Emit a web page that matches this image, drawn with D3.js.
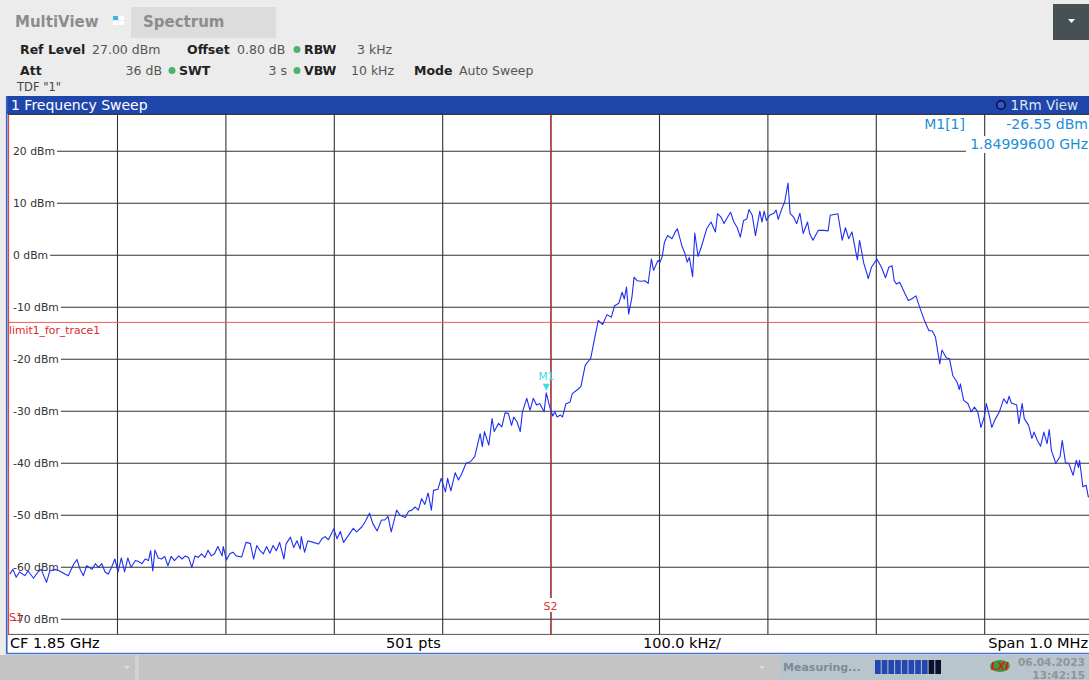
<!DOCTYPE html>
<html><head><meta charset="utf-8">
<script src="https://cdn.jsdelivr.net/npm/d3@7"></script>
<style>
body{margin:0;background:#ececec;overflow:hidden}
svg{display:block;font-family:"DejaVu Sans",sans-serif}
</style>
</head><body>
<svg id="c" width="1089" height="680"></svg>
<script>
// ---- data (frequency offset from CF 1.85 GHz in kHz, level in dBm) ----
const freqKHz = [
-499,-496,-493,-490,-485,-482,-477,-473,-470,-465,-462,-457,-453,-448,-445,-440,-437,-434,-431,-428,
-423,-420,-417,-414,-411,-408,-405,-402,-399,-396,-393,-390,-387,-383,-380,-377,-374,-371,-369,-367,
-365,-362,-359,-356,-353,-350,-347,-343,-340,-337,-334,-331,-328,-325,-322,-319,-316,-313,-310,-307,
-303,-302,-299,-296,-293,-290,-285,-281,-277,-274,-271,-268,-265,-262,-259,-256,-253,-250,-246,-244,
-240,-237,-234,-231,-230,-227,-224,-219,-214,-211,-208,-205,-200,-197,-194,-191,
-182,-179,-174,-171,-167,-164,-160,-156,-153,-150,-147,-142,-139,-134,-131,-128,-125,-122,-119,-116,
-113,-110,-108,-104,-101,-97,-95,-92,-88,-85,-82,-78,-74,-70,-65,-63,-61,-57,-54,-52,
-48,-45,-42,-39,-36,-34,-31,-28,-26,-22,-19,-16,-13,-10,-6,-4,-1,2,4,6,
9,11,14,18,20,25,28,32,37,40,44,
48,52,56,59,63,66,68,70,72,75,77,80,84,87,90,93,95,99,101,103,
105,108,112,115,117,121,124,126,128,131,133,136,139,144,148,152,154,157,160,162,
166,169,172,175,178,181,183,186,189,193,195,197,199,202,206,208,210,213,216,219,
221,224,227,230,233,237,239,242,247,252,256,258,265,269,272,275,278,281,283,285,
289,292,293,296,301,305,309,312,315,317,319,322,
327,330,333,337,341,345,349,352,355,357,359,361,365,368,371,375,377,378,381,385,
388,391,394,397,400,402,405,407,410,414,418,421,423,425,430,432,435,437,441,444,
446,449,452,455,458,460,462,466,470,472,475,478,482,485,487,488,491,494,496,500
];
const levelDbm = [
-61.4,-60.5,-62,-61,-61.7,-60.8,-62.2,-61,-60.5,-63,-60.8,-60.5,-60.8,-61.4,-61.7,-59.5,-58.6,-60.5,-61.7,-59.8,
-60.5,-59.4,-60.1,-59.4,-61,-61.4,-60.1,-58.5,-61,-58.3,-61,-58.3,-60.1,-58.8,-59,-59.4,-58.5,-58.8,-56.9,-60.8,
-56.8,-58.3,-58.5,-58,-59.8,-58,-58.8,-57.9,-58.5,-57.9,-58.2,-60.1,-57.9,-58.2,-57.5,-58.2,-56.8,-57.9,-57.5,-56.1,
-57.9,-56.1,-58.7,-57.5,-57.2,-57.9,-58.1,-55.3,-55.5,-58.5,-55.9,-56.9,-57.5,-56.1,-57.4,-55.9,-56.9,-55.3,-58.5,-55.6,
-54.3,-56.3,-55,-56.6,-54.2,-57.2,-55,-55.3,-55.6,-54.6,-54.2,-54.8,-52.7,-54.6,-53.2,-55.3,
-52.6,-53.3,-52.3,-51.3,-49.7,-51.7,-53.1,-51,-51,-50.3,-53.3,-49.1,-50.1,-50.5,-49.3,-49.1,-48.5,-49.1,-46.9,-48,
-45.8,-49.1,-45.3,-45.1,-43,-45.6,-43,-45.4,-41.9,-43.3,-42.1,-40.1,-39.8,-38.8,-34.4,-36.9,-34,-36.6,-31.5,-34,
-32.4,-33.1,-30.4,-30.5,-32.8,-31.2,-32.1,-34,-30.2,-27.6,-29.9,-27.6,-28.9,-28.6,-30.2,-26.55,-29.1,-31,-30.2,-31.2,
-30.8,-31.2,-28.7,-28.3,-26.7,-25.9,-25.3,-21.2,-19.9,-16.7,-12.6,
-13.4,-11.5,-12,-9.8,-9.3,-7.2,-8.5,-6.2,-11.4,-8.2,-4.3,-5,-5.1,-5,-5.5,-0.8,-3,-1.1,-1.4,-0.3,
2.4,3.7,3.1,4.4,5,1.8,0.2,-1.4,-0.5,-4.2,4.2,-0.3,1.5,5,6.3,4.4,7.9,7.3,6,6.8,
8.2,6.3,5.3,3.4,6.6,6.9,8.7,7.6,3.7,8.4,6.3,8.4,6.6,7.6,8,8.6,6.8,8.7,10.2,13.8,
7.9,7.3,6,8,4.1,6.3,4.1,2.8,4.7,4.7,4.6,7.6,7.9,2.8,5.2,3.1,4.4,1.2,-1,2.8,
-1.7,-3.7,-4.6,-2.4,-0.8,-2.3,-4.4,-2.4,-2.1,-5,-5.6,-5.3,
-7.5,-8.8,-8.5,-7.9,-10.4,-12.7,-14.6,-14.6,-15.8,-18.4,-21,-18.3,-19.8,-20,-23.2,-24.5,-25.9,-24.8,-28,-28.6,
-30.2,-29.3,-30.2,-33.2,-31.2,-28.6,-31.2,-33.2,-31.7,-30.2,-27.7,-28.6,-27.2,-28.5,-28.9,-32.5,-28.6,-31.5,-32.8,-35.3,
-34.1,-35.7,-36.8,-34.1,-36.3,-33.6,-37.6,-40.1,-38.8,-35.7,-40,-40.1,-42.4,-39.5,-40.9,-39.5,-44.6,-44.3,-46.5,-47
];
const yTicks = [20,10,0,-10,-20,-30,-40,-50,-60,-70];
const xTicks = [-400,-300,-200,-100,0,100,200,300,400];
const spanKHz = [-500,500];
const levelRange = [-73,27];
const limitDbm = -13;
const markerFreqKHz = -4, markerDbm = -26.55;
const headerLine1 = [
  {t:"Ref Level",b:true,x:20,a:"start"},{t:"27.00 dBm",x:92,a:"start"},
  {t:"Offset",b:true,x:187,a:"start"},{t:"0.80 dB",x:237,a:"start"},
  {t:"RBW",b:true,x:304,a:"start"},{t:"3 kHz",x:357,a:"start"}];
const headerLine2 = [
  {t:"Att",b:true,x:20,a:"start"},{t:"36 dB",x:162,a:"end"},
  {t:"SWT",b:true,x:179,a:"start"},{t:"3 s",x:287,a:"end"},
  {t:"VBW",b:true,x:304,a:"start"},{t:"10 kHz",x:351,a:"start"},
  {t:"Mode",b:true,x:414,a:"start"},{t:"Auto Sweep",x:459,a:"start"}];

const svg = d3.select("#c");
const W = 1089, H = 680;

// header background
svg.append("rect").attr("width",W).attr("height",H).attr("fill","#ececec");
svg.append("text").attr("x",15).attr("y",27).attr("font-size",15).attr("font-weight","bold")
  .attr("fill","#8c8c8c").text("MultiView");
[[0,0,"#3fb3ea"],[6,0,"#ffffff"],[0,5,"#ffffff"],[6,5,"#ffffff"]].forEach(d=>{
  svg.append("rect").attr("x",113+d[0]).attr("y",16+d[1]).attr("width",5).attr("height",4).attr("fill",d[2]);
});
svg.append("rect").attr("x",131).attr("y",7).attr("width",145).attr("height",31).attr("fill","#dcdcdc");
svg.append("text").attr("x",143).attr("y",27).attr("font-size",15).attr("font-weight","bold")
  .attr("fill","#8c8c8c").text("Spectrum");
svg.append("rect").attr("x",1053).attr("y",4).attr("width",36).attr("height",36).attr("fill","#475053");
svg.append("path").attr("d","M1068,19 L1075,19 L1071.5,23 Z").attr("fill","#ffffff");

function hdr(items, yy){
  items.forEach(d=>{
    svg.append("text").attr("x",d.x).attr("y",yy).attr("font-size",12.5)
      .attr("font-weight",d.b?"bold":"normal").attr("fill",d.b?"#222":"#555")
      .attr("text-anchor",d.a).text(d.t);
  });
}
hdr(headerLine1,54);
hdr(headerLine2,75);
[[297,49.5],[172,70.5],[297,70.5]].forEach(p=>{
  svg.append("circle").attr("cx",p[0]).attr("cy",p[1]).attr("r",3.5).attr("fill","#4db36a");
});
svg.append("text").attr("x",17).attr("y",91).attr("font-size",11.5).attr("fill","#444").text('TDF "1"');

// title bar
svg.append("rect").attr("x",7).attr("y",96).attr("width",W-7).attr("height",18).attr("fill","#1f46ab");
svg.append("text").attr("x",11).attr("y",110).attr("font-size",14).attr("fill","#ffffff").text("1 Frequency Sweep");
svg.append("circle").attr("cx",1001).attr("cy",105).attr("r",4.3).attr("fill","#2f55e0").attr("stroke","#111").attr("stroke-width",1.5);
svg.append("text").attr("x",1078).attr("y",110).attr("font-size",13.5).attr("text-anchor","end").attr("fill","#dfe3ee").text("1Rm View");

// scales
const x = d3.scaleLinear().domain(spanKHz).range([8.6,1092.6]);
const y = d3.scaleLinear().domain(levelRange).range([634.4,114.4]);
const plotTop = y(levelRange[1]), plotBot = y(levelRange[0]);

// plot area
svg.append("rect").attr("x",8).attr("y",plotTop).attr("width",W-8).attr("height",plotBot-plotTop).attr("fill","#ffffff");
svg.append("defs").append("clipPath").attr("id","clip").append("rect")
  .attr("x",8).attr("y",plotTop).attr("width",W-8).attr("height",plotBot-plotTop);

// grid via axes
const gx = svg.append("g").attr("transform",`translate(0,${plotBot})`)
  .call(d3.axisBottom(x).tickValues(xTicks).tickSize(-(plotBot-plotTop)).tickFormat(""));
gx.select(".domain").remove();
gx.selectAll("line").attr("stroke","#333").attr("stroke-width",1.1);
const gy = svg.append("g").attr("transform",`translate(${x.range()[0]},0)`)
  .call(d3.axisLeft(y).tickValues(yTicks).tickSize(-(x.range()[1]-x.range()[0])).tickFormat(""));
gy.select(".domain").remove();
gy.selectAll("line").attr("stroke","#333").attr("stroke-width",1.1);

// y labels with white background
const labG = svg.append("g");
yTicks.forEach(v=>{
  const bg = labG.append("rect");
  const t = labG.append("text").attr("x",13).attr("y",y(v)).attr("dy","0.36em")
    .attr("font-size",10.8).attr("fill","#333").text(v+" dBm");
  const w = t.node().getComputedTextLength();
  bg.attr("x",9).attr("y",y(v)-3).attr("width",w+6).attr("height",6).attr("fill","#fff");
});

// plot borders
svg.append("line").attr("x1",8).attr("x2",W).attr("y1",plotTop).attr("y2",plotTop).attr("stroke","#222");
svg.append("line").attr("x1",8).attr("x2",W).attr("y1",plotBot).attr("y2",plotBot).attr("stroke","#555");

// limit line
svg.append("line").attr("x1",8).attr("x2",W).attr("y1",y(limitDbm)).attr("y2",y(limitDbm))
  .attr("stroke","#f05a5a").attr("stroke-width",1);
svg.append("text").attr("x",9).attr("y",y(limitDbm)+12).attr("font-size",10.8).attr("fill","#e02828").text("limit1_for_trace1");

// S1 / S2 lines
svg.append("line").attr("x1",x(-500)).attr("x2",x(-500)).attr("y1",plotTop).attr("y2",plotBot).attr("stroke","#e03030");
svg.append("line").attr("x1",x(0)).attr("x2",x(0)).attr("y1",plotTop).attr("y2",plotBot).attr("stroke","#e03030");
svg.append("rect").attr("x",x(0)-8).attr("y",598).attr("width",16).attr("height",14).attr("fill","#fff");
svg.append("text").attr("x",x(0)).attr("y",610).attr("text-anchor","middle").attr("font-size",11).attr("fill","#e03030").text("S2");
svg.append("text").attr("x",9).attr("y",621).attr("font-size",11).attr("fill","#e03030").text("S1");

// trace
const line = d3.line().x((d,i)=>x(freqKHz[i])).y(d=>y(d));
svg.append("path").attr("clip-path","url(#clip)").attr("d",line(levelDbm))
  .attr("fill","none").attr("stroke","#1f2ef2").attr("stroke-width",1.1).attr("stroke-linejoin","round");

// marker M1
const mx = x(markerFreqKHz), my = y(markerDbm);
svg.append("path").attr("d",`M${mx-3.5},${my-9} L${mx+3.5},${my-9} L${mx},${my-2} Z`).attr("fill","#3fdbe6");
svg.append("text").attr("x",mx).attr("y",my-13).attr("text-anchor","middle").attr("font-size",10.5).attr("fill","#3fdbe6").text("M1");

// marker readout
const mc = "#1b8fd6";
svg.append("text").attr("x",965).attr("y",129).attr("text-anchor","end").attr("font-size",14).attr("fill",mc).text("M1[1]");
svg.append("text").attr("x",1088).attr("y",129).attr("text-anchor","end").attr("font-size",14).attr("fill",mc).text(markerDbm.toFixed(2)+" dBm");
svg.append("rect").attr("x",966).attr("y",136).attr("width",W-966).attr("height",17).attr("fill","#fff");
svg.append("text").attr("x",1088).attr("y",149).attr("text-anchor","end").attr("font-size",14).attr("fill",mc)
  .text(((1850000+markerFreqKHz)/1e6).toFixed(8)+" GHz");

// bottom info bar
svg.append("rect").attr("x",8).attr("y",plotBot+0.6).attr("width",W-8).attr("height",653-plotBot-0.6).attr("fill","#fff");
const bb = 648;
svg.append("text").attr("x",10).attr("y",bb).attr("font-size",14.5).attr("fill","#000").text("CF 1.85 GHz");
svg.append("text").attr("x",386).attr("y",bb).attr("font-size",14.5).attr("fill","#000").text("501 pts");
svg.append("text").attr("x",643).attr("y",bb).attr("font-size",14.5).attr("fill","#000").text("100.0 kHz/");
svg.append("text").attr("x",1088).attr("y",bb).attr("text-anchor","end").attr("font-size",14.5).attr("fill","#000").text("Span 1.0 MHz");

// panel blue border
svg.append("line").attr("x1",6.7).attr("x2",6.7).attr("y1",96).attr("y2",654).attr("stroke","#3b5fc4").attr("stroke-width",1.6);
svg.append("line").attr("x1",6).attr("x2",W).attr("y1",653.5).attr("y2",653.5).attr("stroke","#4a70d2").attr("stroke-width",1.6);

// status bar
svg.append("rect").attr("x",0).attr("y",655).attr("width",W).attr("height",25).attr("fill","#c4c4c4");
svg.append("rect").attr("x",135).attr("y",655).attr("width",4).attr("height",25).attr("fill","#d2d2d2");
svg.append("path").attr("d","M124,666 L130,666 L127,669 Z").attr("fill","#e0e0e0");
svg.append("path").attr("d","M759,666 L765,666 L762,669 Z").attr("fill","#e0e0e0");
svg.append("rect").attr("x",780).attr("y",655).attr("width",W-780).attr("height",25).attr("fill","#b9c5cd");
svg.append("text").attr("x",783).attr("y",671).attr("font-size",11).attr("font-weight","bold").attr("fill","#7d8b96").text("Measuring...");
d3.range(10).forEach(i=>{
  svg.append("rect").attr("x",875+i*6.7).attr("y",660).attr("width",5.7).attr("height",14)
    .attr("fill", i<8 ? "#2346b0" : "#0b1030");
});
svg.append("ellipse").attr("cx",1000).attr("cy",666).attr("rx",10).attr("ry",6).attr("fill","#3a9a3a");
svg.append("text").attr("x",1000).attr("y",670).attr("text-anchor","middle").attr("font-size",10)
  .attr("font-weight","bold").attr("font-style","italic").attr("fill","#d42020").text("LXI");
svg.append("text").attr("x",1085).attr("y",666).attr("text-anchor","end").attr("font-size",10.6).attr("font-weight","bold").attr("fill","#8d959b").text("06.04.2023");
svg.append("text").attr("x",1085).attr("y",679).attr("text-anchor","end").attr("font-size",10.6).attr("font-weight","bold").attr("fill","#8d959b").text("13:42:15");
</script>
</body></html>
